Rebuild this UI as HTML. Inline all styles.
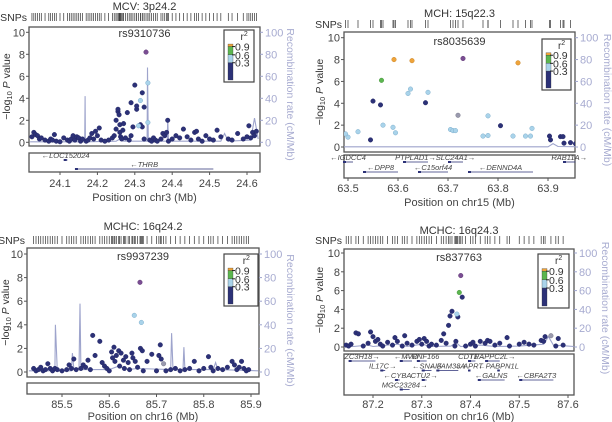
<!DOCTYPE html>
<html><head><meta charset="utf-8">
<style>
html,body{margin:0;padding:0;background:#fff;}
svg{display:block;font-family:"Liberation Sans",sans-serif;}
</style></head>
<body>
<svg id="chart" width="612" height="422" viewBox="0 0 612 422" xmlns="http://www.w3.org/2000/svg"></svg>
<script>
// ---------- DATA ----------
// categories: 0 = r2<0.3 (navy), 1 = 0.3-0.6 (light blue), 2 = 0.6-0.9 (green), 3 = >0.9 (orange), 4 = lead SNP, 5 = no info (grey)
const p1Pos=[24.025,24.03,24.035,24.04,24.045,24.05,24.06,24.07,24.075,24.08,24.085,24.09,24.1,24.11,24.12,24.125,24.13,24.135,24.14,24.145,24.15,24.155,24.16,24.17,24.175,24.18,24.185,24.19,24.195,24.2,24.205,24.21,24.22,24.23,24.24,24.245,24.25,24.25,24.255,24.255,24.258,24.26,24.26,24.262,24.265,24.268,24.27,24.275,24.28,24.285,24.29,24.29,24.295,24.3,24.305,24.305,24.31,24.315,24.315,24.32,24.32,24.325,24.325,24.33,24.335,24.335,24.34,24.345,24.35,24.355,24.36,24.37,24.375,24.38,24.385,24.388,24.39,24.4,24.41,24.42,24.43,24.44,24.45,24.46,24.465,24.47,24.48,24.49,24.5,24.51,24.52,24.53,24.55,24.56,24.575,24.59,24.6,24.605,24.61,24.615,24.62,24.625];
const p1LogP=[0.5,0.9,0.7,0.6,0.3,0.4,0.2,0.1,0.3,0.2,0.7,0.1,0.05,0.4,0.2,0.1,0.3,0.6,0.2,0.5,0.4,0.1,0.3,0.1,0.2,0.4,0.8,0.3,1.0,0.6,1.3,0.2,0.1,0.2,0.4,0.6,1.2,2.0,2.8,3.0,2.5,1.6,0.9,0.5,0.3,1.1,1.7,0.4,2.7,0.2,3.6,0.6,1.4,5.2,3.0,3.3,1.5,3.8,1.6,4.5,1.4,3.2,0.3,8.2,5.4,1.8,0.2,0.1,0.4,0.2,0.1,0.3,0.8,0.6,0.9,2.0,0.1,0.3,0.6,0.4,1.2,0.5,0.2,0.9,1.0,0.3,0.1,0.6,0.3,0.2,1.1,0.5,0.3,0.2,0.8,0.3,0.5,1.5,0.4,0.9,0.6,1.0];
const p1Cat=[0,0,0,0,0,0,0,0,0,0,0,0,0,0,0,0,0,0,0,0,0,0,0,0,0,0,0,0,0,0,0,0,0,0,0,0,0,0,0,0,0,0,0,0,0,0,0,0,0,0,0,0,0,0,0,0,1,1,0,0,0,0,0,4,1,1,0,0,0,0,0,0,0,0,0,0,0,0,0,0,0,0,0,0,0,0,0,0,0,0,0,0,0,0,0,0,0,0,0,0,0,0];
const p1RecPos=[24.02,24.166,24.167,24.168,24.25,24.26,24.27,24.333,24.334,24.336,24.387,24.388,24.39,24.53,24.54,24.55,24.61,24.62,24.63];
const p1Rec=[0.5,0.5,42,0.5,1,3,1,1,68,1,1,22,1,1,8,1,2,22,3];

const p2Pos=[63.73,63.628,63.84,63.592,63.567,63.62,63.625,63.66,63.57,63.59,63.595,63.5,63.495,63.52,63.72,63.705,63.71,63.715,63.77,63.78,63.78,63.83,63.855,63.865,63.868,63.55,63.565,63.545,63.805,63.903,63.905,63.925,63.93,63.932,63.945,63.955,63.655];
const p2LogP=[8.1,7.9,7.7,8.0,6.1,4.9,5.3,5.0,2.0,1.8,1.3,0.9,1.2,1.4,2.9,1.6,1.5,1.5,1.0,1.05,2.85,1.0,1.0,1.0,1.7,4.2,3.85,0.65,1.95,1.0,0.65,0.95,0.95,0.35,0.4,0.3,4.05];
const p2Cat=[4,3,3,3,2,1,1,1,1,1,1,1,1,1,5,1,1,1,1,1,1,1,1,1,1,0,0,0,0,0,0,0,0,0,0,0,0];
const p2RecPos=[63.49,63.9,63.91,63.92,63.955];
const p2Rec=[0.2,0.2,3,0.5,0.3];

const p3Pos=[85.44,85.445,85.45,85.455,85.46,85.465,85.47,85.475,85.48,85.485,85.49,85.5,85.51,85.515,85.52,85.525,85.53,85.54,85.545,85.55,85.555,85.56,85.565,85.57,85.58,85.585,85.59,85.595,85.6,85.605,85.607,85.61,85.612,85.615,85.62,85.622,85.625,85.63,85.632,85.635,85.64,85.643,85.648,85.65,85.653,85.655,85.66,85.665,85.666,85.668,85.67,85.672,85.68,85.69,85.7,85.705,85.708,85.71,85.715,85.72,85.73,85.74,85.75,85.76,85.77,85.78,85.79,85.8,85.81,85.815,85.82,85.83,85.84,85.85,85.86,85.865,85.87,85.875,85.88,85.885,85.89,85.895];
const p3LogP=[0.3,0.1,0.2,0.4,0.1,0.2,0.7,0.3,0.1,0.3,0.2,0.1,0.2,0.6,0.3,1.1,0.2,0.3,0.6,0.4,1.0,0.2,3.1,1.4,2.6,0.8,0.5,0.3,0.1,1.7,1.2,2.1,0.9,1.4,1.8,0.5,1.6,1.0,0.3,1.3,0.8,0.2,1.6,1.2,4.8,0.9,0.4,7.6,2.0,4.2,1.8,0.1,0.9,1.5,0.1,1.4,2.3,1.1,0.7,0.1,0.2,0.3,0.1,0.2,0.3,0.9,0.1,0.3,1.3,0.4,0.1,0.3,0.2,0.4,0.9,0.6,0.2,0.4,0.9,0.3,0.1,0.2];
const p3Cat=[0,0,0,0,0,0,0,0,0,0,0,0,0,0,0,0,0,0,0,0,0,0,0,0,0,0,0,0,0,0,0,0,0,0,0,0,0,0,0,0,0,0,0,0,1,0,0,4,0,1,0,0,0,0,0,0,0,0,5,0,0,0,0,0,0,0,0,0,0,0,0,0,0,0,0,0,0,0,0,0,0,0];
const p3RecPos=[85.43,85.485,85.486,85.49,85.52,85.522,85.525,85.536,85.538,85.54,85.6,85.62,85.64,85.66,85.73,85.732,85.735,85.756,85.758,85.76,85.82,85.825,85.83,85.915];
const p3Rec=[1,1,40,1,1,16,3,3,58,2,2,5,2,3,2,33,2,2,21,2,2,8,2,1];

const p4Pos=[87.145,87.15,87.155,87.165,87.17,87.18,87.19,87.195,87.2,87.205,87.21,87.215,87.22,87.23,87.24,87.245,87.25,87.26,87.265,87.27,87.28,87.29,87.295,87.3,87.305,87.31,87.315,87.32,87.33,87.34,87.345,87.35,87.355,87.358,87.362,87.368,87.37,87.372,87.374,87.377,87.38,87.383,87.39,87.4,87.405,87.41,87.42,87.43,87.435,87.44,87.45,87.46,87.475,87.48,87.5,87.51,87.52,87.53,87.545,87.55,87.553,87.565,87.575,87.58,87.59];
const p4LogP=[0.2,0.1,0.3,1.5,1.4,0.1,0.4,1.6,1.1,0.6,0.8,0.3,0.1,0.5,0.2,1.0,0.6,0.1,1.2,0.4,0.2,0.6,0.8,0.3,0.9,0.6,0.1,0.3,0.2,0.7,1.4,0.4,2.3,3.3,3.8,0.1,0.6,3.5,3.2,5.8,7.6,5.3,0.1,0.3,0.5,0.1,0.6,0.4,0.7,0.6,0.2,0.4,1.0,0.1,0.3,0.5,0.3,0.2,0.7,0.6,1.1,1.2,0.1,0.9,0.2];
const p4Cat=[0,0,0,0,0,0,0,0,0,0,0,0,0,0,0,0,0,0,0,0,0,0,0,0,0,0,0,0,0,0,0,0,0,0,0,0,0,1,0,2,4,0,0,0,0,0,0,0,0,0,0,0,0,0,0,0,0,0,0,0,0,5,0,0,0];
const p4RecPos=[87.14,87.16,87.19,87.2,87.25,87.27,87.3,87.32,87.36,87.37,87.38,87.42,87.45,87.5,87.55,87.56,87.57,87.6,87.612];
const p4Rec=[0.3,0.5,2,0.5,3,0.5,3,0.5,1,5,0.5,2,0.5,1,3,11,2,1,0.5];

// genes: name, start, end, row, strand (+1 right arrow, -1 left arrow)
const g1Names=["LOC152024","THRB"];const g1Start=[24.11,24.14];const g1End=[24.12,24.51];const g1Row=[0,1];const g1Dir=[-1,-1];
const g2Names=["IGDCC4","PTPLAD1","SLC24A1","RAB11A","DPP8","C15orf44","DENND4A"];
const g2Start=[63.49,63.61,63.70,63.93,63.53,63.64,63.74];const g2End=[63.51,63.66,63.73,63.955,63.60,63.70,63.87];const g2Row=[0,0,0,0,1,1,1];const g2Dir=[-1,1,1,1,-1,-1,-1];
const g3Names=[];const g3Start=[];const g3End=[];const g3Row=[];const g3Dir=[];
const g4Names=["ZC3H18","MVD","RNF166","CDT1","TRAPPC2L","IL17C","SNAI3","FAM38A","APRT","PABPN1L","CYBA","CTU2","GALNS","CBFA2T3","MGC23284"];
const g4Start=[87.15,87.255,87.29,87.395,87.43,87.215,87.3,87.33,87.395,87.455,87.245,87.3,87.415,87.5,87.255];
const g4End=[87.205,87.28,87.31,87.41,87.46,87.225,87.32,87.375,87.4,87.46,87.255,87.31,87.47,87.57,87.275];
const g4Row=[0,0,0,0,0,1,1,1,1,1,2,2,2,2,3];const g4Dir=[1,-1,-1,1,1,1,-1,-1,-1,-1,-1,1,-1,-1,1];

const xTicks1=[24.1,24.2,24.3,24.4,24.5,24.6];
const xTicks2=[63.5,63.6,63.7,63.8,63.9];
const xTicks3=[85.5,85.6,85.7,85.8,85.9];
const xTicks4=[87.2,87.3,87.4,87.5,87.6];
const yTicks=[0,2,4,6,8,10];
const recTicks=[0,20,40,60,80,100];

// ---------- RENDER ----------
const NS="http://www.w3.org/2000/svg";
const svg=document.getElementById('chart');
function mk(tag,attrs,parent,text){const e=document.createElementNS(NS,tag);for(const k in attrs)e.setAttribute(k,attrs[k]);if(text!==undefined)e.textContent=text;(parent||svg).appendChild(e);return e;}
const COLORS=["#2c3177","#a9d3ea","#5cb64f","#eea33a","#7a4d93","#9a9aae"];
const STROKES=["#1e2260","#6fa3c4","#3e8a35","#c07a1a","#55306b","#6f6f80"];
const NAV="#2c3177",REC="#9ea4cc",AX="#555";

const panels=[
 {id:"mcv-3p24",title:"MCV: 3p24.2",rs:"rs9310736",chr:"chr3",frame:[29,27,260,146],xr:[24.1,60,24.6,247],y0:142.3,y10:32.3,gb:[29,153,260,172],lab:187,tit:201,tt:10,sn:21,rsy:37,ll:10,rl:287,leg:[224,30,254,82],
  pos:p1Pos,lp:p1LogP,cat:p1Cat,rp:p1RecPos,rr:p1Rec,gn:g1Names,gs:g1Start,ge:g1End,gr:g1Row,gd:g1Dir,xt:xTicks1,dec:1,rowH:9},
 {id:"mch-15q22",title:"MCH: 15q22.3",rs:"rs8035639",chr:"chr15",frame:[344,32,575,152],xr:[63.5,348,63.9,548],y0:147,y10:37.7,gb:[344,155,575,178],lab:192,tit:206,tt:17,sn:28,rsy:45,ll:323,rl:604,leg:[542,39,571,90],
  pos:p2Pos,lp:p2LogP,cat:p2Cat,rp:p2RecPos,rr:p2Rec,gn:g2Names,gs:g2Start,ge:g2End,gr:g2Row,gd:g2Dir,xt:xTicks2,dec:1,rowH:10},
 {id:"mchc-16q24-2",title:"MCHC: 16q24.2",rs:"rs9937239",chr:"chr16",frame:[27,248,259,377],xr:[85.5,62,85.9,251],y0:372,y10:254,gb:[27,383,259,394],lab:408,tit:420,tt:230,sn:244,rsy:260,ll:9,rl:287,leg:[224,254,258,306],
  pos:p3Pos,lp:p3LogP,cat:p3Cat,rp:p3RecPos,rr:p3Rec,gn:g3Names,gs:g3Start,ge:g3End,gr:g3Row,gd:g3Dir,xt:xTicks3,dec:1,rowH:9},
 {id:"mchc-16q24-3",title:"MCHC: 16q24.3",rs:"rs837763",chr:"chr16",frame:[344,249,574,351],xr:[87.2,373,87.6,568],y0:347,y10:253,gb:[344,354,574,395],lab:408,tit:420,tt:234,sn:244,rsy:261,ll:323,rl:602,leg:[538,254,569,308],
  pos:p4Pos,lp:p4LogP,cat:p4Cat,rp:p4RecPos,rr:p4Rec,gn:g4Names,gs:g4Start,ge:g4End,gr:g4Row,gd:g4Dir,xt:xTicks4,dec:1,rowH:9.5}
];

panels.forEach(P=>{
 const g=mk('g',{});
 
 
 const [fx0,fy0,fx1,fy1]=P.frame;
 const sx=(P.xr[3]-P.xr[1])/(P.xr[2]-P.xr[0]);
 const X=v=>P.xr[1]+(v-P.xr[0])*sx;
 const Y=v=>P.y0-(P.y0-P.y10)*v/10;
 const YR=v=>Y(v/10);
 const cx=(fx0+fx1)/2;
 // title
 const t=mk('text',{x:cx,y:P.tt,'text-anchor':'middle','font-size':11,fill:'#333'},g,P.title);
 
 
 // SNP rug
 const sl=mk('text',{x:fx0-2,y:P.sn,'text-anchor':'end','font-size':10.5,fill:'#333'},g,'SNPs');
 
 
 const rug=mk('g',{},g);
 
 
 P.pos.forEach(v=>{const x=X(v);if(x>=fx0&&x<=fx1)mk('line',{x1:x,x2:x,y1:P.sn-8,y2:P.sn,stroke:'#333','stroke-width':0.7},rug);});
 // frame
 const fr=mk('rect',{x:fx0,y:fy0,width:fx1-fx0,height:fy1-fy0,fill:'none',stroke:'#555','stroke-width':1.3},g);
 
 
 // clip
 const cid='clip-'+P.id;
 const cp=mk('clipPath',{id:cid},g);mk('rect',{x:fx0,y:fy0,width:fx1-fx0,height:fy1-fy0},cp);
 // left y axis
 const ya=mk('g',{},g);
 
 
 yTicks.forEach(v=>{const y=Y(v);mk('line',{x1:fx0-3,x2:fx0,y1:y,y2:y,stroke:AX},ya);mk('text',{x:fx0-4,y:y+4,'text-anchor':'end','font-size':11,fill:'#444'},ya,String(v));});
 const ylt=mk('text',{x:P.ll,y:(fy0+fy1)/2,'text-anchor':'middle','font-size':10.5,fill:'#333',transform:`rotate(-90 ${P.ll} ${(fy0+fy1)/2})`},g);
 
 
 ylt.innerHTML='−log<tspan font-size="7.5" dy="2">10</tspan><tspan dy="-2"> </tspan><tspan font-style="italic">P</tspan> value';
 // right axis
 const ra=mk('g',{},g);
 
 
 recTicks.forEach(v=>{const y=YR(v);mk('line',{x1:fx1,x2:fx1+3,y1:y,y2:y,stroke:REC},ra);mk('text',{x:fx1+5,y:y+4,'font-size':11,fill:'#a7abd0'},ra,String(v));});
 const rt=mk('text',{x:P.rl,y:(fy0+fy1)/2+8,'text-anchor':'middle','font-size':10.5,fill:'#a7abd0',transform:`rotate(90 ${P.rl} ${(fy0+fy1)/2+8})`},g,'Recombination rate (cM/Mb)');
 
 
 // recombination line
 const d=P.rp.map((v,i)=>(i?'L':'M')+X(v).toFixed(1)+','+YR(P.rr[i]).toFixed(1)).join('');
 const rl=mk('path',{d:d,fill:'none',stroke:REC,'stroke-width':1.1,'clip-path':`url(#${cid})`},g);
 
 
 // points
 const pts=mk('g',{'clip-path':`url(#${cid})`},g);
 
 
 const order=P.pos.map((v,i)=>i).sort((a,b)=>(P.cat[a]?1:0)-(P.cat[b]?1:0));
 order.forEach(i=>{
   const c=mk('circle',{cx:X(P.pos[i]),cy:Y(P.lp[i]),r:2.3,fill:COLORS[P.cat[i]],stroke:STROKES[P.cat[i]],'stroke-width':0.4},pts);
   
   
 });
 // rs label
 const rs=mk('text',{x:cx,y:P.rsy,'text-anchor':'middle','font-size':11,fill:'#333'},g,P.rs);
 
 
 // legend
 const [lx0,ly0,lx1,ly1]=P.leg;
 const lg=mk('g',{},g);
 
 
 mk('rect',{x:lx0,y:ly0,width:lx1-lx0,height:ly1-ly0,fill:'#fff',stroke:'#444','stroke-width':1.2},lg);
 const lh=ly1-ly0;
 mk('text',{x:lx0+(lx1-lx0)*0.55,y:ly0+10,'font-size':10,fill:'#333'},lg).innerHTML='r<tspan font-size="7" dy="-4">2</tspan>';
 const bx=lx0+4,bw=5;const b0=ly0+lh*0.27,b1=ly1-2;const bh=b1-b0;
 const segs=[[0,0.07,3],[0.07,0.30,2],[0.30,0.52,1],[0.52,1,0]];
 segs.forEach(s=>mk('rect',{x:bx,y:b0+bh*s[0],width:bw,height:bh*(s[1]-s[0]),fill:COLORS[s[2]],stroke:'#333','stroke-width':0.3},lg));
 [["0.9",0.07],["0.6",0.30],["0.3",0.52]].forEach(l=>{const y=b0+bh*l[1];mk('line',{x1:bx+bw-1,x2:bx+bw+2,y1:y,y2:y,stroke:'#222'},lg);mk('text',{x:bx+bw+2,y:y+4,'font-size':10.5,fill:'#333'},lg,l[0]);});
 // gene box
 const [gx0,gy0,gx1,gy1]=P.gb;
 const gbx=mk('g',{},g);
 
 
 mk('rect',{x:gx0,y:gy0,width:gx1-gx0,height:gy1-gy0,fill:'#fff',stroke:'#555','stroke-width':1.3},gbx);
 P.gn.forEach((n,i)=>{
   const yb=gy0+5+P.gr[i]*P.rowH;const xa=X(P.gs[i]),xb=X(P.ge[i]);
   mk('line',{x1:xa,x2:xb,y1:yb+2,y2:yb+2,stroke:NAV,'stroke-width':0.8},gbx);
   mk('rect',{x:xa,y:yb+1,width:Math.min(3,xb-xa),height:2,fill:NAV},gbx);
   const label=P.gd[i]<0?'←'+n:n+'→';
   const tx=mk('text',{x:(xa+xb)/2,y:yb,'text-anchor':'middle','font-size':7.5,'font-style':'italic',fill:'#444'},gbx,label);
   
   
 });
 // x axis
 const xa=mk('g',{},g);
 
 
 P.xt.forEach(v=>{const x=X(v);mk('line',{x1:x,x2:x,y1:gy1,y2:gy1+3,stroke:AX},xa);mk('text',{x:x,y:P.lab,'text-anchor':'middle','font-size':11,fill:'#444'},xa,v.toFixed(P.dec));});
 const xt=mk('text',{x:cx,y:P.tit,'text-anchor':'middle','font-size':11,fill:'#444'},g,'Position on '+P.chr+' (Mb)');
 
 
});
</script>
</body></html>
